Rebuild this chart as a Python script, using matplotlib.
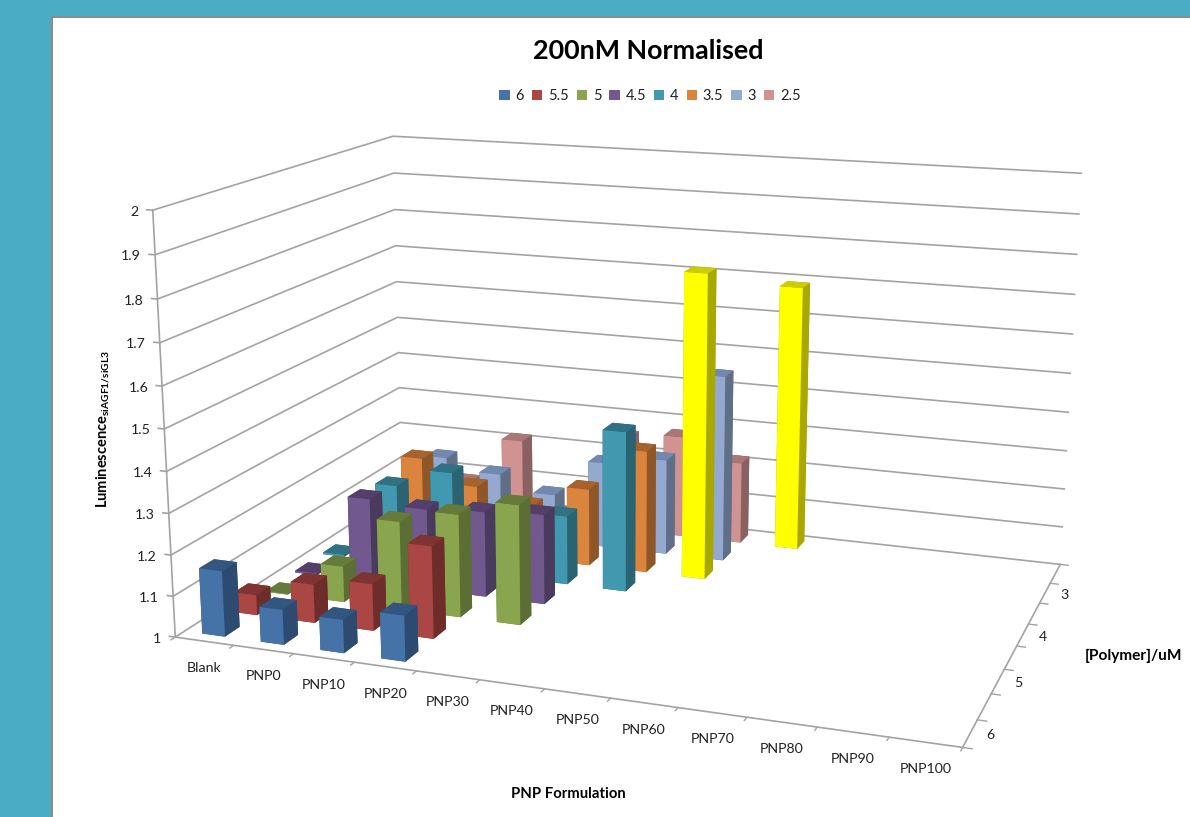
import numpy as np
import matplotlib
matplotlib.use('Agg')
import matplotlib.pyplot as plt
from matplotlib.patches import Patch, Rectangle

W, H = 1190, 817

categories = ['Blank', 'PNP0', 'PNP10', 'PNP20', 'PNP30', 'PNP40', 'PNP50',
              'PNP60', 'PNP70', 'PNP80', 'PNP90', 'PNP100']
series_names = ['6', '5.5', '5', '4.5', '4', '3.5', '3', '2.5']
z_ticks = [1, 1.1, 1.2, 1.3, 1.4, 1.5, 1.6, 1.7, 1.8, 1.9, 2]
depth_labels = ['6', '5', '4', '3']

# one value per category, missing wells left out
s6 = [1.16, 1.085, 1.08, 1.11]
s55 = [1.05, 1.095, 1.115, 1.225]
s5 = [1.002, 1.09, 1.22, 1.255, 1.295]
s45 = [1.005, 1.215, 1.205, 1.215, 1.225]
s4 = [1.005, 1.205, 1.255, 1.15, 1.175, 1.405]
s35 = [np.nan, 1.235, 1.175, 1.14, 1.20, 1.315, 1.775]
s3 = [np.nan, 1.195, 1.165, 1.125, 1.225, 1.25, 1.483]
s25 = [np.nan, 1.085, 1.215, 1.025, 1.255, 1.27, 1.215, 1.69]
all_series = [s6, s55, s5, s45, s4, s35, s3, s25]

# front, side, top
face_colors = [('#4573A7', '#2D4B70', '#335680'),
               ('#AA4643', '#6E2D2B', '#7F3431'),
               ('#89A54E', '#5B6E33', '#667A3A'),
               ('#71588F', '#4A3A5E', '#543F6B'),
               ('#4198AF', '#2A6372', '#307183'),
               ('#DB843D', '#8F5627', '#A7632B'),
               ('#93A9CF', '#606F88', '#7288AE'),
               ('#D09392', '#896160', '#A87776')]
yellow = ('#FFFF00', '#A8A800', '#CCCC00')
yellow_bars = [(5, 6), (7, 7)]   # (series, category) recoloured by hand

plt.rcParams['font.family'] = ['Lato', 'DejaVu Sans']
plt.rcParams['mathtext.default'] = 'regular'

fig = plt.figure(figsize=(W / 100, H / 100), dpi=100, facecolor='#4BACC6')
fig.add_artist(Rectangle((52 / W, -0.01), 1, 1.01 - 17 / H, transform=fig.transFigure,
                         facecolor='white', edgecolor='#8C8C8C', linewidth=1.5, zorder=-1))

# square axes bigger than the figure, mplot3d forces a square box
ax = fig.add_axes([0, -(W - H) / 2 / H, 1, W / H], projection='3d', computed_zorder=False)
ax.set_axis_off()
ax.patch.set_visible(False)

# camera fitted to the corners of the chart box: (x, y, z) -> pixel
nx, ny = len(categories), len(series_names)
corners = [((0, 0, 1), (175, 637)), ((nx, 0, 1), (963, 747)), ((nx, ny, 1), (1060, 565)),
           ((0, ny, 1), (402, 491)), ((0, 0, 2), (152.7, 210.7)), ((0, ny, 2), (393, 136)),
           ((nx, ny, 2), (1081, 173))]
A = []
b = []
for (x, y, z), (u, v) in corners:
    A.append([x, y, z, 1, 0, 0, 0, 0, -u * x, -u * y, -u * z])
    A.append([0, 0, 0, 0, x, y, z, 1, -v * x, -v * y, -v * z])
    b += [u, v]
p = np.linalg.lstsq(np.array(A, float), np.array(b, float), rcond=None)[0]
cam = np.append(p, 1).reshape(3, 4)


def get_proj():
    # pixels -> 2d axes data, worked out at draw time
    to_display = np.array([[1, 0, 0], [0, -1, H], [0, 0, 1]], float)
    m = ax.transData.inverted().get_matrix() @ to_display @ cam
    return np.vstack([m[0], m[1], [0, 0, 0, -1], m[2]])


ax.get_proj = get_proj


def tick_text(x, y, z, dx, dy, s, ha):
    # label next to a point of the 3d box, offset in pixels
    q = cam @ np.array([x, y, z, 1.0])
    fig.text((q[0] / q[2] + dx) / W, 1 - (q[1] / q[2] + dy) / H, s, ha=ha, va='center',
             fontsize=10.2, color='#222222')


grid_col = '#A3A3A3'
for z in z_ticks:
    ax.plot([0, 0, nx], [0, ny, ny], [z, z, z], color=grid_col, lw=1.2, zorder=1)
    ax.plot([-0.1, 0], [0, 0], [z, z], color=grid_col, lw=1.2, zorder=1)
    tick_text(0, 0, z, -14, 1.5, '%g' % z, 'right')
ax.plot([0, 0], [0, 0], [1, 2], color=grid_col, lw=1.2, zorder=1)
ax.plot([0, nx], [0, 0], [1, 1], color=grid_col, lw=1.2, zorder=1)
ax.plot([nx, nx], [0, ny], [1, 1], color=grid_col, lw=1.2, zorder=1)

for i in range(nx + 1):
    ax.plot([i, i], [0, -0.12], [1, 1], color=grid_col, lw=1.0, zorder=1)
for j in range(ny + 1):
    ax.plot([nx, nx + 0.13], [j, j], [1, 1], color=grid_col, lw=1.0, zorder=1)

for i, name in enumerate(categories):
    tick_text(i + 0.5, 0, 1, 0, 27, name, 'center')
for j, name in enumerate(depth_labels):
    tick_text(nx, 2 * j + 0.5, 1, 20, 2, name, 'center')

# back rows first, then left to right, so nearer bars cover farther ones
bar_w = 0.39
bar_d = 0.45
order = 10
for j in range(ny - 1, -1, -1):
    for i, v in enumerate(all_series[j]):
        if np.isnan(v):
            continue
        front, side, top = yellow if (j, i) in yellow_bars else face_colors[j]
        # bar3d faces: -z +z -y +y -x +x
        ax.bar3d(i + 0.5 - bar_w / 2, j + 0.5 - bar_d / 2, 1, bar_w, bar_d, v - 1,
                 color=[side, top, front, side, side, side], shade=False,
                 linewidth=0, zorder=order)
        order += 1

fig.text(648 / W, 1 - 51 / H, '200nM Normalised', ha='center', va='center',
         fontsize=19.4, fontweight='bold', color='black')
handles = [Patch(facecolor=c[0], label=n) for c, n in zip(face_colors, series_names)]
fig.legend(handles=handles, loc='center', bbox_to_anchor=(650 / W, 1 - 96 / H), ncol=8,
           frameon=False, fontsize=10.5, handlelength=0.7, handleheight=0.7,
           handletextpad=0.4, columnspacing=0.55, labelcolor='#222222')

fig.text(103 / W, 1 - 429 / H, r'Luminescence$_{siAGF1/siGL3}$', rotation=90, ha='center', va='center',
         fontsize=10.5, fontweight='bold', color='black')
fig.text(568 / W, 1 - 794 / H, 'PNP Formulation', ha='center', va='center',
         fontsize=10.7, fontweight='bold', color='black')
fig.text(1133.5 / W, 1 - 656 / H, '[Polymer]/uM', ha='center', va='center',
         fontsize=11.1, fontweight='bold', color='black')

fig.savefig('out.png', dpi=100, facecolor=fig.get_facecolor())
